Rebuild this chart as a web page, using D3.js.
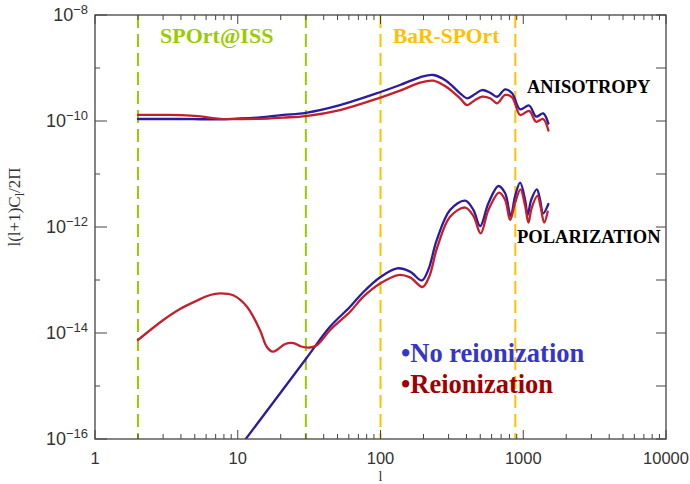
<!DOCTYPE html>
<html>
<head>
<meta charset="utf-8">
<script src="https://cdn.jsdelivr.net/npm/d3@7"></script>
<style>
  html, body { margin: 0; padding: 0; background: #fff; }
  svg { display: block; }
</style>
</head>
<body>
<svg id="chart" width="690" height="484"></svg>
<script>
// ---------------- data ----------------
const xTickLabels = ["1", "10", "100", "1000", "10000"];
const yTickExponents = [-8, -10, -12, -14, -16];

const anisoEll = [2, 3, 4, 5.5, 7.5, 10, 14.3, 20.8, 30, 52, 100, 137, 189, 234, 288, 361, 404, 460, 515, 586, 656, 747, 836, 951, 1100, 1231, 1378, 1500];
const anisoNoReion = [1.09e-10, 1.09e-10, 1.09e-10, 1.08e-10, 1.08e-10, 1.11e-10, 1.17e-10, 1.30e-10, 1.43e-10, 2.0e-10, 3.52e-10, 4.77e-10, 6.68e-10, 7.38e-10, 5.76e-10, 3.33e-10, 2.68e-10, 3.23e-10, 3.84e-10, 3.42e-10, 2.87e-10, 3.96e-10, 3.33e-10, 1.66e-10, 1.96e-10, 1.21e-10, 1.39e-10, 8.9e-11];
const anisoReion = [1.30e-10, 1.30e-10, 1.29e-10, 1.22e-10, 1.10e-10, 1.09e-10, 1.10e-10, 1.16e-10, 1.24e-10, 1.61e-10, 2.77e-10, 3.73e-10, 5.28e-10, 5.76e-10, 4.43e-10, 2.68e-10, 2.0e-10, 2.49e-10, 2.87e-10, 2.68e-10, 2.16e-10, 3.10e-10, 2.80e-10, 1.30e-10, 1.55e-10, 9.7e-11, 1.09e-10, 6.6e-11];

const polNoReionEll = [10, 30, 44.4, 61.2, 75.9, 100, 131, 161, 195, 216, 248, 307, 392, 448, 499, 570, 670, 747, 816, 877, 951, 1031, 1074, 1136, 1245, 1313, 1378, 1500];
const polNoReion = [6.3e-17, 3.23e-15, 1.32e-14, 3.13e-14, 5.94e-14, 1.14e-13, 1.66e-13, 1.44e-13, 9.8e-14, 1.55e-13, 5.69e-13, 2.09e-12, 3.14e-12, 2.09e-12, 1.04e-12, 2.80e-12, 5.94e-12, 4.33e-12, 1.61e-12, 3.85e-12, 6.86e-12, 3.23e-12, 1.68e-12, 3.23e-12, 5.14e-12, 3.23e-12, 1.81e-12, 2.72e-12];

const polReionEll = [2, 3.01, 3.94, 5.16, 6.4, 7.5, 9.3, 11.6, 14.3, 16.0, 17.6, 19.2, 21.5, 24.5, 27.8, 32.1, 36.0, 44.4, 61.2, 75.9, 100, 133, 161, 197, 219, 249, 307, 392, 448, 503, 570, 678, 747, 809, 877, 956, 1031, 1088, 1145, 1258, 1324, 1401, 1483];
const polReion = [7.38e-15, 1.76e-14, 2.84e-14, 4.07e-14, 5.21e-14, 5.61e-14, 5.14e-14, 3.13e-14, 1.14e-14, 5.44e-15, 4.44e-15, 4.99e-15, 6.2e-15, 6.47e-15, 5.56e-15, 5.33e-15, 5.94e-15, 1.14e-14, 2.52e-14, 4.84e-14, 8.67e-14, 1.24e-13, 1.12e-13, 7.38e-14, 1.14e-13, 4.02e-13, 1.56e-12, 2.33e-12, 1.61e-12, 7.6e-13, 2.09e-12, 4.44e-12, 3.23e-12, 1.36e-12, 2.84e-12, 5.14e-12, 2.49e-12, 1.21e-12, 2.28e-12, 3.85e-12, 2.38e-12, 1.21e-12, 1.95e-12];

const experimentBands = [
  { name: "SPOrt@ISS", lo: 2, hi: 30, color: "#99cc00" },
  { name: "BaR-SPOrt", lo: 100, hi: 880, color: "#ffc000" }
];

// ---------------- layout ----------------
const svg = d3.select("#chart");
const L = 95, R = 666, T = 15, B = 439;
const x = d3.scaleLog().domain([1, 10000]).range([L, R]);
const y = d3.scaleLog().domain([1e-16, 1e-8]).range([B, T]);

const blueLine = "#2c1aa0", redLine = "#c4202c";
const axisColor = "#444";

svg.append("defs").append("clipPath").attr("id", "plotclip")
  .append("rect").attr("x", L).attr("y", T).attr("width", R - L).attr("height", B - T);

// dashed experiment bounds
const gDash = svg.append("g");
experimentBands.forEach(b => {
  [b.lo, b.hi].forEach(v => {
    gDash.append("line")
      .attr("x1", x(v)).attr("x2", x(v)).attr("y1", T).attr("y2", B)
      .attr("stroke", b.color).attr("stroke-width", 2)
      .attr("stroke-dasharray", "13,6");
  });
});

// curves
const line = d3.line()
  .x(d => x(d[0])).y(d => y(d[1]))
  .curve(d3.curveCatmullRom.alpha(0.5));
const gLines = svg.append("g").attr("clip-path", "url(#plotclip)");
function draw(ell, vals, color) {
  gLines.append("path")
    .datum(ell.map((l, i) => [l, vals[i]]))
    .attr("d", line).attr("fill", "none")
    .attr("stroke", color).attr("stroke-width", 2.3)
    .attr("stroke-linejoin", "round").attr("stroke-linecap", "round");
}
draw(anisoEll, anisoNoReion, blueLine);
draw(anisoEll, anisoReion, redLine);
draw(polNoReionEll, polNoReion, blueLine);
draw(polReionEll, polReion, redLine);

// frame
svg.append("rect").attr("x", L).attr("y", T).attr("width", R - L).attr("height", B - T)
  .attr("fill", "none").attr("stroke", axisColor).attr("stroke-width", 1.3);

// x ticks (bottom and top)
const gAx = svg.append("g").attr("stroke", axisColor).attr("stroke-width", 1);
x.ticks().forEach(t => {
  const major = Math.abs(Math.log10(t) - Math.round(Math.log10(t))) < 1e-9;
  const len = major ? 9 : 5;
  gAx.append("line").attr("x1", x(t)).attr("x2", x(t)).attr("y1", B).attr("y2", B - len);
  gAx.append("line").attr("x1", x(t)).attr("x2", x(t)).attr("y1", T).attr("y2", T + len);
});
// y ticks (left and right), one per decade
d3.range(-16, -7).forEach(e => {
  const v = Math.pow(10, e);
  const major = (e % 2 === 0);
  gAx.append("line").attr("x1", L).attr("x2", L + (major ? 12 : 5)).attr("y1", y(v)).attr("y2", y(v));
  gAx.append("line").attr("x1", R).attr("x2", R - 10).attr("y1", y(v)).attr("y2", y(v));
});

// x tick labels
svg.append("g").selectAll("text").data(xTickLabels).join("text")
  .attr("x", d => x(+d)).attr("y", 464)
  .attr("text-anchor", "middle")
  .attr("font-family", "Liberation Sans, Arial, sans-serif")
  .attr("font-size", 16.5).attr("fill", "#333")
  .text(d => d);

// y tick labels with superscript exponent
const yl = svg.append("g")
  .attr("font-family", "Liberation Sans, Arial, sans-serif").attr("fill", "#333");
yTickExponents.forEach(e => {
  const t = yl.append("text").attr("x", 88).attr("y", y(Math.pow(10, e)) + 6)
    .attr("text-anchor", "end").attr("font-size", 18);
  t.append("tspan").text("10");
  t.append("tspan").attr("dy", -7).attr("font-size", 13).text("\u2212" + Math.abs(e));
});

// axis titles
svg.append("text").attr("x", x(100)).attr("y", 481).attr("text-anchor", "middle")
  .attr("font-family", "Liberation Serif, Times New Roman, serif").attr("font-size", 14)
  .attr("fill", "#333").text("l");
const yt = svg.append("text")
  .attr("transform", "translate(20,207) rotate(-90)")
  .attr("text-anchor", "middle")
  .attr("font-family", "Liberation Serif, Times New Roman, serif").attr("font-size", 17)
  .attr("fill", "#333");
yt.append("tspan").text("l(l+1)C");
yt.append("tspan").attr("dy", 4).attr("font-size", 12).text("l");
yt.append("tspan").attr("dy", -4).text("/2\u03A0");

// annotations
const serifBold = "Liberation Serif, Times New Roman, serif";
svg.append("text").attr("x", 160).attr("y", 43).attr("font-family", serifBold)
  .attr("font-weight", "bold").attr("font-size", 22).attr("fill", experimentBands[0].color)
  .text(experimentBands[0].name);
svg.append("text").attr("x", 393).attr("y", 43).attr("font-family", serifBold)
  .attr("font-weight", "bold").attr("font-size", 21.5).attr("fill", experimentBands[1].color)
  .text(experimentBands[1].name);
svg.append("text").attr("x", 527).attr("y", 93).attr("font-family", serifBold)
  .attr("font-weight", "bold").attr("font-size", 18.5).attr("fill", "#000")
  .text("ANISOTROPY");
svg.append("text").attr("x", 517).attr("y", 243).attr("font-family", serifBold)
  .attr("font-weight", "bold").attr("font-size", 18.5).attr("fill", "#000")
  .text("POLARIZATION");

// legend
const legendItems = [
  { label: "\u2022No reionization", color: "#3535c8" },
  { label: "\u2022Reionization", color: "#a00000" }
];
svg.append("g").selectAll("text").data(legendItems).join("text")
  .attr("x", 401).attr("y", (d, i) => 362 + i * 31)
  .attr("font-family", serifBold).attr("font-weight", "bold").attr("font-size", 26.5)
  .attr("fill", d => d.color).text(d => d.label);
</script>
</body>
</html>
